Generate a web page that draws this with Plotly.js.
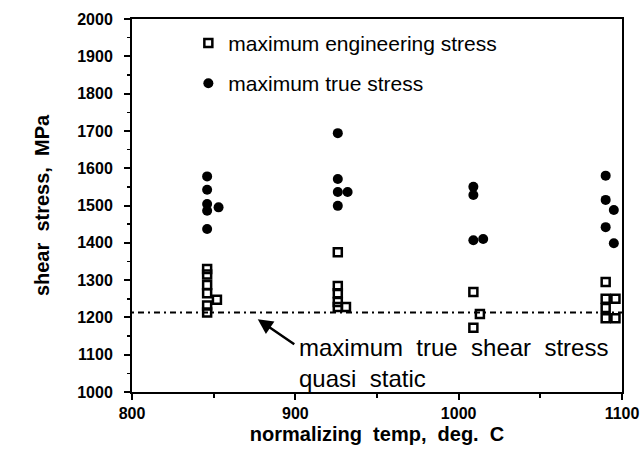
<!DOCTYPE html>
<html>
<head>
<meta charset="utf-8">
<script src="https://cdn.plot.ly/plotly-3.0.1.min.js"></script>
<style>html,body{margin:0;padding:0;background:#fff;}#chart{width:642px;height:468px;}</style>
</head>
<body>
<div id="chart"></div>
<script>
// maximum engineering stress (MPa) vs normalizing temp (deg C)
const engTemp   = [846, 846, 846, 846, 852, 846, 846, 926, 926, 926, 926, 926, 931, 1009, 1013, 1009, 1090, 1090, 1096, 1090, 1090, 1096];
const engStress = [1330, 1315, 1287, 1265, 1247, 1232, 1213, 1375, 1284, 1265, 1241, 1228, 1228, 1268, 1209, 1172, 1295, 1250, 1250, 1225, 1198, 1198];
// maximum true stress (MPa)
const trueTemp   = [846, 846, 846, 846, 853, 846, 926, 926, 926, 932, 926, 1009, 1009, 1009, 1015, 1090, 1090, 1095, 1090, 1095];
const trueStress = [1578, 1542, 1504, 1486, 1495, 1437, 1694, 1571, 1536, 1536, 1499, 1550, 1528, 1407, 1410, 1580, 1515, 1488, 1442, 1399];
// quasi static maximum true shear stress
const quasiTemp   = [800, 1100];
const quasiStress = [1213, 1213];

const xTicks = [800, 900, 1000, 1100];
const yTicks = [1000, 1100, 1200, 1300, 1400, 1500, 1600, 1700, 1800, 1900, 2000];

const traces = [
  {x: quasiTemp, y: quasiStress, mode: 'lines', showlegend: false,
   line: {color: '#000', width: 2, dash: '2px,4px,6px,4px'}, hoverinfo: 'skip'},
  {x: engTemp, y: engStress, mode: 'markers', name: 'maximum engineering stress', legendgroup: 'a',
   marker: {symbol: 'square-open', size: 8, color: '#000', line: {color: '#000', width: 2.5}}},
  {x: trueTemp, y: trueStress, mode: 'markers', name: 'maximum true stress', legendgroup: 'b',
   marker: {symbol: 'circle', size: 10, color: '#000'}}
];

const FF = 'Liberation Sans, Arial, sans-serif';
const tfont = {family: FF, size: 16, color: '#000', weight: 'bold'};

const layout = {
  width: 642, height: 468,
  margin: {l: 132, r: 20, t: 19, b: 76},
  paper_bgcolor: '#fff', plot_bgcolor: '#fff',
  showlegend: true,
  legend: {x: 0.115, y: 0.99, xanchor: 'left', yanchor: 'top', bgcolor: 'rgba(0,0,0,0)',
           traceorder: 'grouped', tracegroupgap: 10, itemwidth: 30,
           font: {family: FF, size: 21, color: '#000'}},
  xaxis: {range: [800, 1100], tickvals: xTicks, ticktext: xTicks.map(String),
          showline: true, linecolor: '#000', linewidth: 2, mirror: true,
          ticks: 'outside', ticklen: 6, tickwidth: 2, tickcolor: '#000',
          minor: {dtick: 50, ticks: 'outside', ticklen: 4, tickwidth: 2, tickcolor: '#000'},
          showgrid: false, zeroline: false, tickfont: tfont,
          title: {text: 'normalizing  temp,  deg.  C', standoff: 6,
                  font: {family: FF, size: 20, color: '#000', weight: 'bold'}}},
  yaxis: {range: [1000, 2000], tickvals: yTicks, ticktext: yTicks.map(String),
          showline: true, linecolor: '#000', linewidth: 2, mirror: true,
          ticks: 'outside', ticklen: 6, tickwidth: 2, tickcolor: '#000',
          ticklabelstandoff: 8,
          minor: {dtick: 50, ticks: 'outside', ticklen: 3, tickwidth: 1.5, tickcolor: '#000'},
          showgrid: false, zeroline: false, tickfont: tfont,
          title: {text: 'shear  stress,  MPa', standoff: 22,
                  font: {family: FF, size: 20, color: '#000', weight: 'bold'}}},
  annotations: [
    {x: 877, y: 1195, xref: 'x', yref: 'y', text: '', showarrow: true,
     ax: 38, ay: 26, arrowhead: 2, arrowsize: 1.2, arrowwidth: 2.5, arrowcolor: '#000'},
    {x: 901, y: 1162, xref: 'x', yref: 'y', xanchor: 'left', yanchor: 'top', align: 'left',
     showarrow: false, text: 'maximum  true  shear  stress<br>quasi  static',
     font: {family: FF, size: 24, color: '#000'}}
  ]
};

Plotly.newPlot('chart', traces, layout, {displayModeBar: false, staticPlot: true});
</script>
</body>
</html>
